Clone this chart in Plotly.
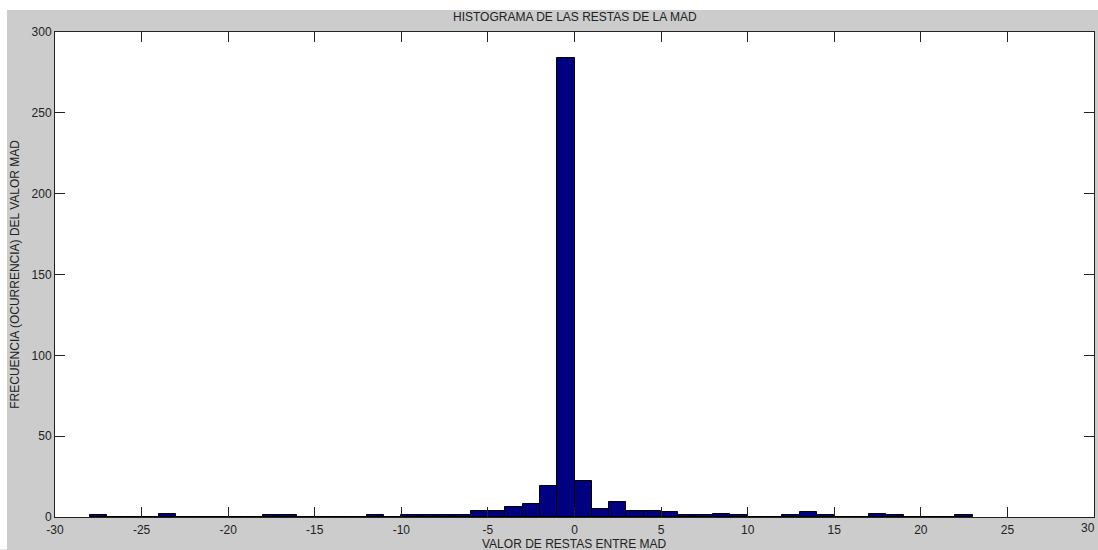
import plotly.graph_objects as go

# Histogram bins: left edges (unit width) and counts
bin_left = list(range(-28, 23))
counts = [
    1, 0, 0, 0, 2, 0, 0, 0, 0, 0,      # -28 .. -19
    1, 1, 0, 0, 0, 0, 1, 0, 1, 1,      # -18 .. -9
    1, 1, 4, 4, 6, 8, 19, 284, 22, 5,  # -8 .. 1
    9, 4, 4, 3, 1, 1, 2, 1, 0, 0,      # 2 .. 11
    1, 3, 1, 0, 0, 2, 1, 0, 0, 0,      # 12 .. 21
    1,                                 # 22
]
centers = [b + 0.5 for b in bin_left]

title_text = "HISTOGRAMA DE LAS RESTAS DE LA MAD"
xlabel = "VALOR DE RESTAS ENTRE MAD"
ylabel = "FRECUENCIA (OCURRENCIA) DEL VALOR MAD"
x_ticks = list(range(-30, 31, 5))
y_ticks = list(range(0, 301, 50))

W, H = 1098, 550
L, R, T, B = 55, 4, 32, 32.5
pw = W - L - R
ph = H - T - B

fig = go.Figure()
fig.add_trace(go.Bar(
    x=centers, y=counts, width=1.0,
    marker=dict(color="#000080", line=dict(color="#000000", width=1)),
    hoverinfo="x+y",
))

font = dict(family="Liberation Sans, Arial, sans-serif", size=12, color="#222222")

# the last x tick label sits at the page edge: drawn as an annotation so it is not dropped
x_ticktext = [str(v) for v in x_ticks[:-1]] + [""]

fig.update_layout(
    width=W, height=H,
    margin=dict(l=L, r=R, t=T, b=B, pad=0),
    paper_bgcolor="#CCCCCC",
    plot_bgcolor="#FFFFFF",
    font=font,
    showlegend=False,
    bargap=0,
    xaxis=dict(
        range=[-30, 30], tickvals=x_ticks, ticktext=x_ticktext,
        ticks="inside", ticklen=10, tickcolor="#222222", tickwidth=1,
        showline=True, linecolor="#222222", linewidth=1, mirror="ticks",
        showgrid=False, zeroline=False, fixedrange=True,
        ticklabelstandoff=2,
    ),
    yaxis=dict(
        range=[0, 300], tickvals=y_ticks, ticktext=[str(v) for v in y_ticks],
        ticks="inside", ticklen=10, tickcolor="#222222", tickwidth=1,
        showline=True, linecolor="#222222", linewidth=1, mirror="ticks",
        showgrid=False, zeroline=False, fixedrange=True,
    ),
    annotations=[
        dict(text=title_text, xref="paper", yref="paper",
             x=0.5, y=1 + (T - 17) / ph, xanchor="center", yanchor="middle",
             showarrow=False, font=font),
        dict(text=xlabel, xref="paper", yref="paper",
             x=0.5, y=-(545 - (T + ph)) / ph, xanchor="center", yanchor="middle",
             showarrow=False, font=font),
        dict(text=ylabel, xref="paper", yref="paper", textangle=-90,
             x=-(L - 15) / pw, y=1 - (275 - T) / ph, xanchor="center", yanchor="middle",
             showarrow=False, font=font),
        dict(text=str(x_ticks[-1]), xref="paper", yref="paper",
             x=1 + R / pw, y=-(529 - (T + ph)) / ph, xanchor="right", yanchor="middle",
             showarrow=False, font=font, xshift=-1),
    ],
    shapes=[
        dict(type="rect", xref="paper", yref="paper", layer="above",
             x0=-L / pw, x1=1 + R / pw, y0=1 + (T - 10) / ph, y1=1 + T / ph,
             fillcolor="#FFFFFF", line=dict(width=0)),
        dict(type="rect", xref="paper", yref="paper", layer="above",
             x0=-L / pw, x1=-(L - 7) / pw, y0=-B / ph, y1=1 + T / ph,
             fillcolor="#FFFFFF", line=dict(width=0)),
    ],
)

fig.write_html("out.html", config={"displayModeBar": False})
